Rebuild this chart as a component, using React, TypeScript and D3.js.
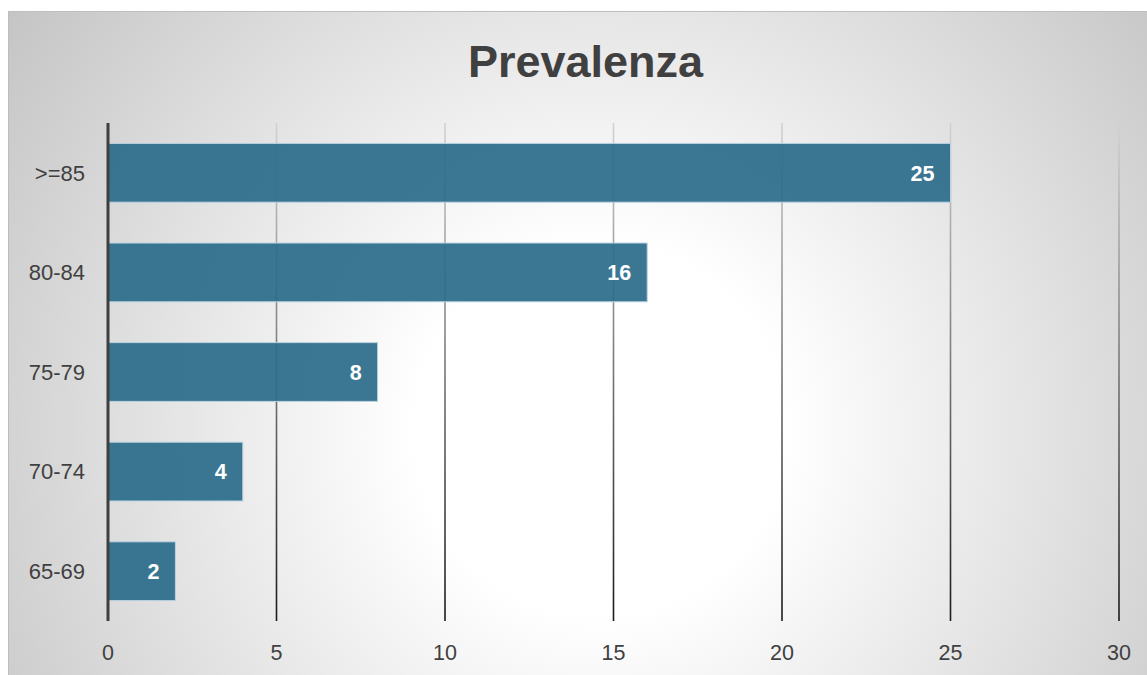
import React from "react";
import * as d3 from "d3";

const categories = [">=85", "80-84", "75-79", "70-74", "65-69"];
const values = [25, 16, 8, 4, 2];
const xTicks = [0, 5, 10, 15, 20, 25, 30];
const title = "Prevalenza";

export default function App() {
  const W = 1147, H = 675;
  const left = 108, right = 1119, top = 123, bottom = 621;
  const x = d3.scaleLinear().domain([0, 30]).range([left, right]);
  const y = d3.scaleBand<string>().domain(categories).range([top, bottom]).paddingInner(0.41).paddingOuter(0.205);
  const font = "'Liberation Sans', Arial, Helvetica, sans-serif";
  return (
    <svg width={W} height={H} style={{ position: "absolute", left: 0, top: 0 }} fontFamily={font}>
      <defs>
        <radialGradient id="bg" gradientUnits="userSpaceOnUse" cx={600} cy={430} r={740}>
          <stop offset="0" stopColor="#ffffff" />
          <stop offset="0.25" stopColor="#ffffff" />
          <stop offset="1" stopColor="#c3c3c3" />
        </radialGradient>
        <linearGradient id="grid" gradientUnits="userSpaceOnUse" x1={0} y1={top} x2={0} y2={bottom}>
          <stop offset="0" stopColor="#d2d2d2" />
          <stop offset="1" stopColor="#1a1a1a" />
        </linearGradient>
      </defs>
      <rect x={0} y={0} width={W} height={H} fill="#ffffff" />
      <rect x={8.5} y={11.5} width={W} height={H} fill="url(#bg)" stroke="#bdbdbd" strokeWidth={1} />
      <text x={585.5} y={77} textAnchor="middle" fontSize={45} fontWeight="bold" fill="#404040">{title}</text>
      {xTicks.slice(1).map((t) => (
        <line key={t} x1={x(t)} x2={x(t)} y1={top} y2={bottom} stroke="url(#grid)" strokeWidth={1.6} />
      ))}
      {categories.map((c, i) => (
        <g key={c}>
          <rect x={x(0)} y={y(c)!} width={x(values[i]) - x(0)} height={y.bandwidth()} fill="#2c6d8b" fillOpacity={0.93} stroke="#b9d3df" strokeWidth={1} />
          <text x={x(values[i]) - 16} y={y(c)! + y.bandwidth() / 2 + 7.8} textAnchor="end" fontSize={21.5} fontWeight="bold" fill="#ffffff">{values[i]}</text>
          <text x={85} y={y(c)! + y.bandwidth() / 2 + 7.8} textAnchor="end" fontSize={22} fill="#404040">{c}</text>
        </g>
      ))}
      <line x1={left} x2={left} y1={top} y2={bottom} stroke="#3f3f3f" strokeWidth={3} />
      {xTicks.map((t) => (
        <text key={t} x={x(t)} y={660} textAnchor="middle" fontSize={21.5} fill="#404040">{t}</text>
      ))}
    </svg>
  );
}
